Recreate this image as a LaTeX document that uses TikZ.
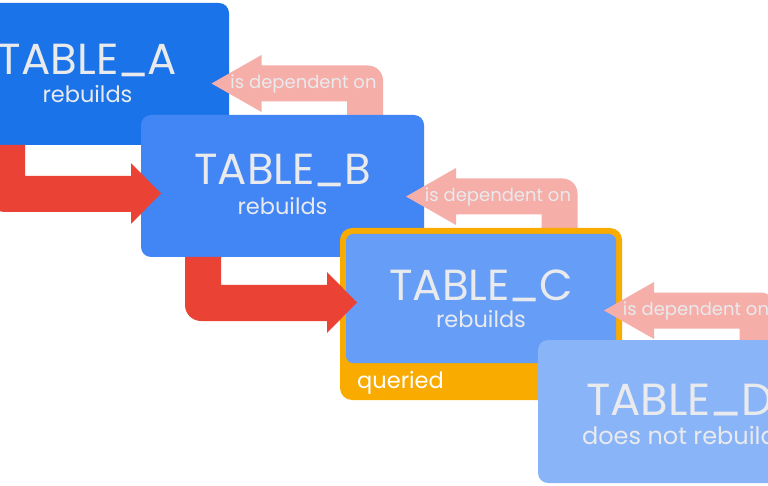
\documentclass[tikz,border=0pt]{standalone}
\usepackage{fontspec}
\setmainfont{Poppins}
\definecolor{cA}{HTML}{1A73E8}
\definecolor{cB}{HTML}{4285F4}
\definecolor{cC}{HTML}{669DF6}
\definecolor{cD}{HTML}{8AB4F8}
\definecolor{corange}{HTML}{F9AB00}
\definecolor{cred}{HTML}{EA4335}
\definecolor{cpink}{HTML}{F6AEA9}
\definecolor{ctxt}{HTML}{E8EAED}
\newcommand{\us}{\kern-0.03em\raisebox{0.09em}{\_}\kern-0.03em}
% red "rebuild" arrow: #1 = left x, #2 = top y, #3 = y of shaft bottom
\newcommand{\redarr}[3]{%
  \fill[cred] (#1,#2) -- (#1,#3-16) .. controls (#1,#3-7.2) and (#1+7.2,#3) .. (#1+16,#3)
    -- (#1+142,#3) -- (#1+142,#3+12) -- (#1+172,#3-18.5) -- (#1+142,#3-49)
    -- (#1+142,#3-36) -- (#1+36,#3-36) -- (#1+36,#2) -- cycle;}
% pink "is dependent on" arrow: #1,#2 = tip, #3 = bottom y of the riser
\newcommand{\pinkarr}[3]{%
  \fill[cpink] (#1,#2) -- (#1+50,#2-28.5) -- (#1+50,#2-18) -- (#1+156.5,#2-18)
    .. controls (#1+164.8,#2-18) and (#1+171.5,#2-11.3) .. (#1+171.5,#2-3)
    -- (#1+171.5,#3) -- (#1+135.5,#3) -- (#1+135.5,#2+18) -- (#1+50,#2+18)
    -- (#1+50,#2+28.5) -- cycle;}
\begin{document}
\begin{tikzpicture}[x=1pt,y=-1pt,
  box/.style={rectangle, rounded corners=10pt, inner sep=0pt, draw=none,
    minimum width=283pt, minimum height=142pt},
  titletext/.style={text=ctxt, font=\fontsize{43.5}{43.5}\selectfont, anchor=base, inner sep=0pt},
  subtext/.style={text=ctxt, font=\fontsize{22.5}{22.5}\selectfont, anchor=base, inner sep=0pt},
  deptext/.style={text=ctxt, font=\fontsize{18}{18}\selectfont, anchor=base, inner sep=0pt}]
\useasboundingbox (0,0) rectangle (768,486);
\clip (0,0) rectangle (768,486);
\fill[white] (0,0) rectangle (768,486);

% TABLE_A
\node[box, fill=cA] (A) at (87.5,74) {};
\node[titletext] (At) at ([yshift=-1pt]A.center) {TABLE\us A};
\node[subtext] (As) at ([yshift=-29pt]A.center) {rebuilds};

% B depends on A
\pinkarr{211.5}{83.5}{115}
\node[deptext] (p1) at (303.5,88.5) {is dependent on};

% TABLE_B
\node[box, fill=cB] (B) at (282.5,186) {};
\node[titletext] (Bt) at ([yshift=1pt]B.center) {TABLE\us B};
\node[subtext] (Bs) at ([yshift=-29pt]B.center) {rebuilds};

\redarr{-11}{145}{212}

% C depends on B
\pinkarr{406}{196.5}{228}
\node[deptext] (p2) at (498,201.5) {is dependent on};

% TABLE_C (queried)
\node[box, fill=corange, rounded corners=12pt, minimum width=282pt, minimum height=172pt] (Cf) at (481,314) {};
\node[box, fill=cC, rounded corners=7pt, minimum width=270pt, minimum height=129pt] (C) at (481,298.5) {};
\node[titletext] (Ct) at ([yshift=-1.5pt]C.center) {TABLE\us C};
\node[subtext] (Cs) at ([yshift=-28.5pt]C.center) {rebuilds};
\node[text=white, font=\fontsize{22.5}{22.5}\selectfont, anchor=base west, inner sep=0pt] (q) at (357,388) {queried};

\redarr{185}{257}{321}

% D depends on C
\pinkarr{604}{310.5}{340}
\node[deptext] (p3) at (696,315.5) {is dependent on};

% TABLE_D
\node[box, fill=cD, minimum height=143pt] (D) at (679.5,411.5) {};
\node[titletext, font=\fontsize{45}{45}\selectfont] (Dt) at ([yshift=-3.5pt]D.center) {TABLE\us D};
\node[subtext, font=\fontsize{24}{24}\selectfont] (Ds) at ([yshift=-33pt]D.center) {does not rebuild};
\end{tikzpicture}
\end{document}
